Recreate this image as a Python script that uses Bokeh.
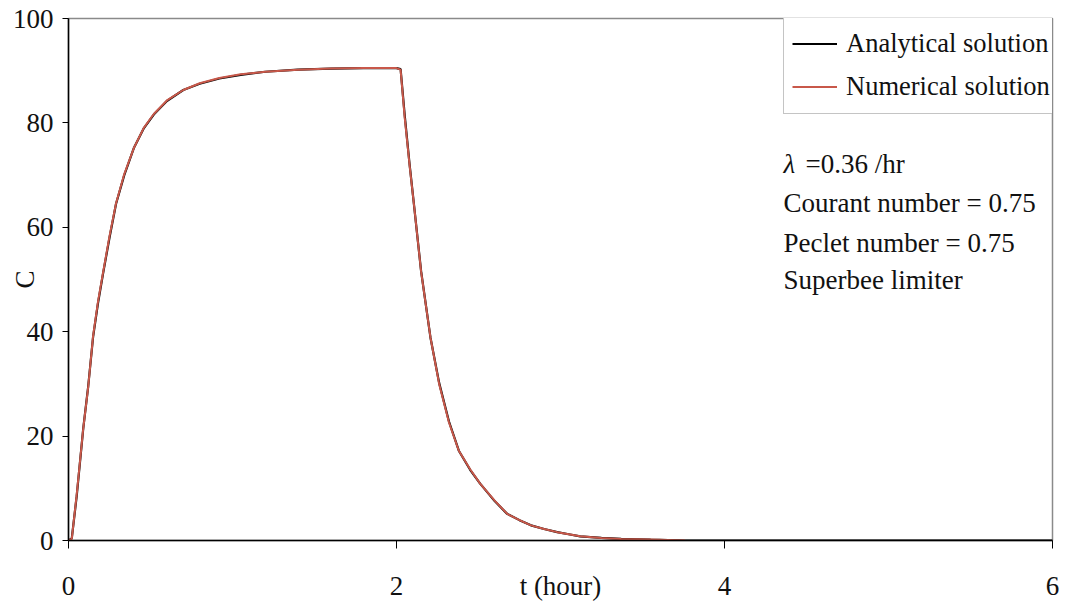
from bokeh.plotting import figure
from bokeh.models import Range1d, FixedTicker, Legend, LegendItem, Label
from bokeh.embed import file_html
from bokeh.resources import INLINE

# ---- data ----
t_analytical = [0, 0.02, 0.05, 0.09, 0.12, 0.15, 0.18, 0.21, 0.25, 0.29, 0.34, 0.40, 0.46,
                0.52, 0.60, 0.70, 0.80, 0.92, 1.05, 1.20, 1.40, 1.60, 1.80, 2.00, 2.025,
                2.05, 2.08, 2.106, 2.15, 2.207, 2.26, 2.32, 2.38, 2.45, 2.51, 2.60, 2.675,
                2.75, 2.82, 2.90, 2.98, 3.05, 3.12, 3.25, 3.37, 3.55, 3.76, 4.0, 5.0, 6.0]
c_analytical = [0, 0.4, 8.5, 21.5, 29.5, 39.0, 45.5, 51.0, 58.0, 64.5, 70.0, 75.3, 79.0,
                81.6, 84.2, 86.3, 87.5, 88.5, 89.2, 89.8, 90.2, 90.4, 90.5, 90.5, 90.3,
                81.5, 72.0, 64.5, 51.6, 38.9, 30.2, 22.8, 17.2, 13.5, 10.9, 7.5, 5.1,
                3.9, 2.9, 2.2, 1.6, 1.2, 0.8, 0.5, 0.3, 0.15, 0.0, 0.0, 0.0, 0.0]

t_numerical = [0, 0.02, 0.05, 0.09, 0.12, 0.15, 0.18, 0.21, 0.25, 0.29, 0.34, 0.40, 0.46,
               0.52, 0.60, 0.70, 0.80, 0.92, 1.05, 1.20, 1.40, 1.60, 1.80, 2.00, 2.025,
               2.05, 2.08, 2.106, 2.15, 2.207, 2.26, 2.32, 2.38, 2.45, 2.51, 2.60, 2.675,
               2.75, 2.82, 2.90, 2.98, 3.05, 3.12, 3.25, 3.37, 3.55, 3.76]
c_numerical = [0, 0.3, 8.8, 21.5, 29.4, 39.2, 45.8, 51.2, 58.3, 64.6, 70.2, 75.3, 79.1,
               81.7, 84.3, 86.3, 87.6, 88.6, 89.3, 89.8, 90.2, 90.4, 90.5, 90.5, 90.2,
               81.0, 71.8, 64.5, 51.5, 38.9, 30.0, 22.6, 17.2, 13.6, 10.9, 7.6, 5.1,
               3.9, 2.9, 2.2, 1.6, 1.2, 0.8, 0.5, 0.3, 0.2, 0.0]

x_ticks = [0, 2, 4, 6]
y_ticks = [0, 20, 40, 60, 80, 100]

FONT = "Liberation Serif"

p = figure(frame_width=984, frame_height=522,
           min_border_left=68, min_border_right=22, min_border_top=18, min_border_bottom=66,
           x_range=Range1d(0, 6), y_range=Range1d(0, 100),
           output_backend="svg", toolbar_location=None,
           background_fill_color="white", border_fill_color="white")

p.xgrid.visible = False
p.ygrid.visible = False
p.outline_line_color = "#8a8a8a"
p.outline_line_width = 1.5

for ax in (p.xaxis[0], p.yaxis[0]):
    ax.axis_line_color = "black"
    ax.axis_line_width = 1.5
    ax.major_tick_line_color = "black"
    ax.major_tick_line_width = 1
    ax.minor_tick_line_color = None
    ax.major_tick_in = 0
    ax.major_label_text_font = FONT
    ax.major_label_text_font_size = "27px"
    ax.major_label_text_color = "#111111"
    ax.axis_label_text_font = FONT
    ax.axis_label_text_font_size = "27px"
    ax.axis_label_text_font_style = "normal"
    ax.axis_label_text_color = "#111111"

p.xaxis.ticker = FixedTicker(ticks=x_ticks)
p.yaxis.ticker = FixedTicker(ticks=y_ticks)
p.xaxis.major_tick_out = 8
p.xaxis.major_label_standoff = 28
p.yaxis.major_tick_out = 6
p.yaxis.major_label_standoff = 9

p.xaxis.axis_label = "t (hour)"
p.xaxis.axis_label_standoff = -27
p.yaxis.axis_label = "C"
p.yaxis.axis_label_standoff = -30

r_an = p.line(t_analytical, c_analytical, line_color="black", line_width=2.2)
r_nu = p.line(t_numerical, c_numerical, line_color="#c8584a", line_width=2.0)

legend = Legend(items=[LegendItem(label="Analytical solution", renderers=[r_an]),
                       LegendItem(label="Numerical solution", renderers=[r_nu])],
                location=(715, 426), margin=0, padding=8, spacing=6,
                glyph_width=45, glyph_height=37, label_height=37, label_standoff=9,
                label_text_font=FONT, label_text_font_size="26.5px", label_text_color="#111111",
                border_line_color="#8a8a8a", border_line_width=1.5,
                background_fill_color="white", background_fill_alpha=1.0)
p.add_layout(legend)

# annotation block
p.add_layout(Label(x=4.36, y=72.2, text="λ", text_font=FONT, text_font_style="italic",
                   text_font_size="27px", text_baseline="middle", text_color="#111111"))
p.add_layout(Label(x=4.494, y=72.2, text="=0.36 /hr", text_font=FONT,
                   text_font_size="27px", text_baseline="middle", text_color="#111111"))
for yv, txt in [(64.75, "Courant number = 0.75"), (56.9, "Peclet number = 0.75"),
                (50.0, "Superbee limiter")]:
    p.add_layout(Label(x=4.36, y=yv, text=txt, text_font=FONT, text_font_size="27px",
                       text_baseline="middle", text_color="#111111"))

open("out.html", "w").write(file_html(p, INLINE))
